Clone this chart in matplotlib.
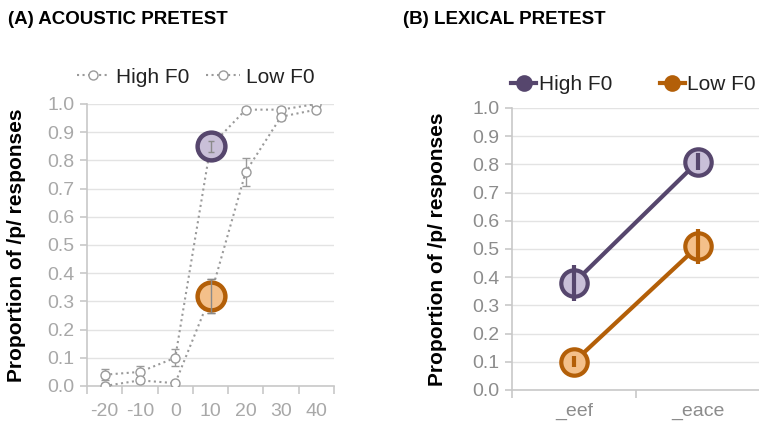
import matplotlib
matplotlib.use('Agg')
import matplotlib.pyplot as plt
from matplotlib.lines import Line2D
from matplotlib.ticker import MultipleLocator, FixedLocator

plt.rcParams['font.family'] = ['Liberation Sans', 'DejaVu Sans']

# (A) acoustic pretest
vot = ['-20', '-10', '0', '10', '20', '30', '40']
high_a = [0.04, 0.05, 0.10, 0.85, 0.98, 0.98, 1.00]
high_a_err = [0.02, 0.02, 0.03, 0.02, 0.01, 0.01, 0.005]
low_a = [0.00, 0.02, 0.01, 0.32, 0.76, 0.955, 0.98]
low_a_err = [0.01, 0.01, 0.005, 0.06, 0.05, 0.01, 0.01]
highlight = 3  # index of the 10 ms step

# (B) lexical pretest
words = ['_eef', '_eace']
high_b = [0.38, 0.81]
high_b_err = [0.065, 0.03]
low_b = [0.10, 0.51]
low_b_err = [0.02, 0.062]

purple = '#56466d'
purple_fill = '#c9bfd8'
orange = '#b35f08'
orange_fill = '#f4c08a'
grey = '#9a9a9a'

fig = plt.figure(figsize=(7.59, 4.24), dpi=100)
W, H = 759, 424
axA = fig.add_axes([87 / W, 1 - 386 / H, 247 / W, 282 / H])
axB = fig.add_axes([512 / W, 1 - 390 / H, 248 / W, 282 / H])

def style(ax, labcol, pad, ylpad):
    ax.set_ylim(0, 1.0)
    ax.yaxis.set_major_locator(MultipleLocator(0.1))
    ax.yaxis.set_major_formatter(plt.FuncFormatter(lambda v, p: f'{v:.1f}'))
    ax.grid(axis='y', color='#e3e3e3', lw=1)
    ax.set_axisbelow(True)
    for s in ['top', 'right']:
        ax.spines[s].set_visible(False)
    for s in ['left', 'bottom']:
        ax.spines[s].set_color('#c8c8c8')
        ax.spines[s].set_linewidth(1.2)
    ax.tick_params(axis='y', colors='#c8c8c8', labelcolor=labcol, labelsize=14, length=5, width=1.2, pad=4)
    ax.tick_params(axis='x', which='major', length=0, labelcolor=labcol, labelsize=14, pad=pad)
    ax.tick_params(axis='x', which='minor', colors='#c8c8c8', length=6, width=1.2)
    ax.set_ylabel('Proportion of /p/ responses', fontsize=15, fontweight='bold', labelpad=ylpad)

# panel A
xa = list(range(len(vot)))
for vals, errs in [(high_a, high_a_err), (low_a, low_a_err)]:
    axA.errorbar(xa, vals, yerr=errs, color=grey, ls=':', lw=1.5, marker='o', ms=6.5,
                 mfc='white', mec=grey, mew=1, ecolor=grey, elinewidth=1, capsize=3, zorder=3)
axA.plot(xa[highlight], high_a[highlight], 'o', ms=20, mfc=purple_fill, mec=purple, mew=3.2, zorder=4)
axA.plot(xa[highlight], low_a[highlight], 'o', ms=20, mfc=orange_fill, mec=orange, mew=3.2, zorder=4)
axA.errorbar(xa[highlight], high_a[highlight], yerr=high_a_err[highlight], color='#8a8a8a', lw=1, capsize=2, zorder=5)
axA.errorbar(xa[highlight], low_a[highlight], yerr=low_a_err[highlight], color='#8a8a8a', lw=1, capsize=3, zorder=5)
axA.set_xlim(-0.5, len(vot) - 0.5)
axA.set_xticks(xa)
axA.set_xticklabels(vot)
axA.xaxis.set_minor_locator(FixedLocator([i - 0.5 for i in range(len(vot) + 1)]))
style(axA, '#a8a8a8', 12, 15)
hA = [Line2D([], [], color=grey, ls=':', lw=1.5, marker='o', ms=6.5, mfc='white', mec=grey, mew=1)
      for _ in range(2)]
axA.legend(hA, ['High F0', 'Low F0'], loc='lower center', bbox_to_anchor=(0.44, 1.062), ncol=2,
           frameon=False, fontsize=15, handlelength=1.6, handletextpad=0.3, columnspacing=0.8,
           labelcolor='#222222', borderaxespad=0, borderpad=0)

# panel B
xb = list(range(len(words)))
for vals, errs, c, f in [(high_b, high_b_err, purple, purple_fill), (low_b, low_b_err, orange, orange_fill)]:
    axB.plot(xb, vals, color=c, lw=3, marker='o', ms=19, mfc=f, mec=c, mew=3, zorder=3)
    axB.errorbar(xb, vals, yerr=errs, fmt='none', ecolor=c, elinewidth=3, capsize=0, zorder=4)
axB.set_xlim(-0.5, len(words) - 0.5)
axB.set_xticks(xb)
axB.set_xticklabels(words)
axB.xaxis.set_minor_locator(FixedLocator([i - 0.5 for i in range(len(words) + 1)]))
style(axB, '#8c8c8c', 9, 18)
hB = [Line2D([], [], color=c, lw=3, marker='o', ms=10, mfc=c, mec=c, mew=2)
      for c in (purple, orange)]
axB.legend(hB, ['High F0', 'Low F0'], loc='lower center', bbox_to_anchor=(0.49, 1.05), ncol=2,
           frameon=False, fontsize=15, handlelength=1.2, handletextpad=0.1, columnspacing=2.3,
           labelcolor='#222222', borderaxespad=0, borderpad=0)

tfont = dict(fontsize=13.5, fontweight='bold', family=['Liberation Sans Narrow', 'Liberation Sans', 'DejaVu Sans'])
fig.text(8 / W, 1 - 20 / H, '(A) ACOUSTIC PRETEST', va='center', ha='left', **tfont)
fig.text(403 / W, 1 - 20 / H, '(B) LEXICAL PRETEST', va='center', ha='left', **tfont)

fig.savefig('out.png', dpi=100)
